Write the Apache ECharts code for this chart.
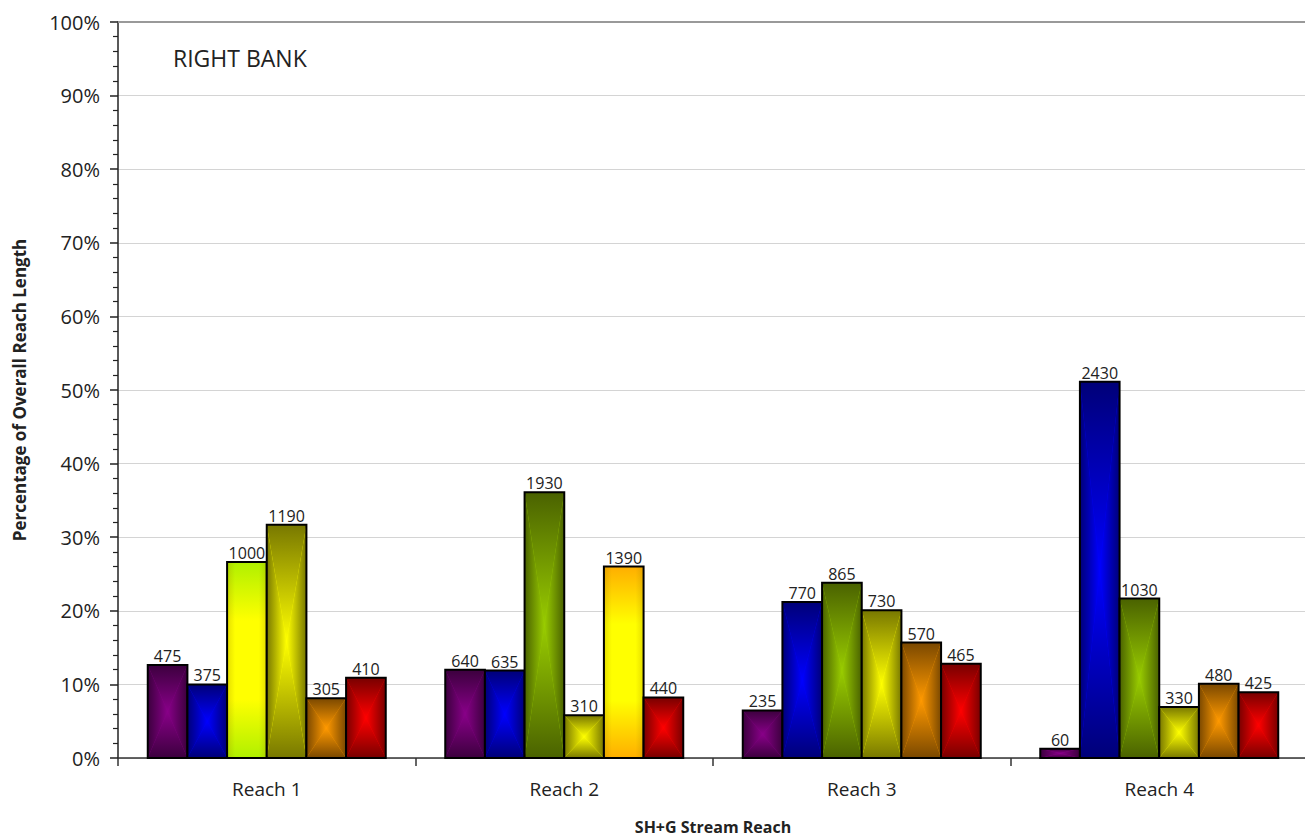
<!DOCTYPE html>
<html>
<head>
<meta charset="utf-8">
<title>Right Bank – SH+G Stream Reach</title>
<script src="https://cdn.jsdelivr.net/npm/echarts@6/dist/echarts.min.js"></script>
<style>
  html, body { margin: 0; padding: 0; background: #fff; overflow: hidden; }
  #chart { width: 1305px; height: 838px; }
</style>
</head>
<body>
<div id="chart"></div>
<script>
// Reaches along the stream (x categories)
const reaches = ['Reach 1', 'Reach 2', 'Reach 3', 'Reach 4'];

// Lengths per class within each reach (labels above bars)
const purpleLen = [475, 640, 235, 60];
const blueLen   = [375, 635, 770, 2430];
const greenLen  = [1000, 1930, 865, 1030];
const yellowLen = [1190, 310, 730, 330];
const orangeLen = [305, 1390, 570, 480];
const redLen    = [410, 440, 465, 425];

// Y-axis range, percent of overall reach length
const yMin = 0, yMax = 100, yStep = 10;

const seriesLengths = [purpleLen, blueLen, greenLen, yellowLen, orangeLen, redLen];

// Fill styles: dark edge fading to a bright centre ("rect" = from-centre box gradient)
const palette = [
  { edge: '#3c003e', center: '#880088', mode: 'rect' },
  { edge: '#000078', center: '#0000ff', mode: 'rect' },
  { edge: '#4a6200', center: '#99cc00', mode: 'rect' },
  { edge: '#787800', center: '#ffff00', mode: 'rect' },
  { edge: '#7a4800', center: '#ff9900', mode: 'rect' },
  { edge: '#780000', center: '#ff0000', mode: 'rect' }
];
// Individual bars with their own fill: key = "series,reach"
const fillOverrides = {
  '2,0': { edge: '#b0f000', center: '#ffff00', mode: 'vertical' },
  '4,1': { edge: '#ffae00', center: '#ffff00', mode: 'vertical' }
};

const totals = reaches.map((_, r) => seriesLengths.reduce((s, arr) => s + arr[r], 0));

const LG = echarts.graphic.LinearGradient;
const FONT = '"Open Sans", "Noto Sans", sans-serif';

function makeRenderItem(sIdx) {
  return function (params, api) {
    const cat = api.value(0);
    const pct = api.value(1);
    const len = api.value(2);
    const band = api.size([1, 0])[0];
    const barW = band * 0.8 / 6;
    const basePt = api.coord([cat, 0]);
    const topPt = api.coord([cat, pct]);
    const x0 = basePt[0] - band * 0.4 + sIdx * barW;
    const x1 = x0 + barW;
    const yT = topPt[1];
    const yB = basePt[1];
    const cx = (x0 + x1) / 2;
    const cy = (yT + yB) / 2;
    const st = fillOverrides[sIdx + ',' + cat] || palette[sIdx];
    const children = [];

    if (st.mode === 'vertical') {
      children.push({
        type: 'rect',
        shape: { x: x0, y: yT, width: barW, height: yB - yT },
        style: {
          fill: new LG(0, 0, 0, 1, [
            { offset: 0, color: st.edge },
            { offset: 0.3, color: st.center },
            { offset: 0.7, color: st.center },
            { offset: 1, color: st.edge }
          ])
        }
      });
      // soft darkening at the side edges
      children.push({
        type: 'rect',
        shape: { x: x0, y: yT, width: barW, height: yB - yT },
        style: {
          fill: new LG(0, 0, 1, 0, [
            { offset: 0, color: 'rgba(150,120,0,0.25)' },
            { offset: 0.2, color: 'rgba(150,120,0,0)' },
            { offset: 0.8, color: 'rgba(150,120,0,0)' },
            { offset: 1, color: 'rgba(150,120,0,0.25)' }
          ])
        }
      });
    } else {
      // base fill to hide seams between the four triangles
      children.push({
        type: 'rect',
        shape: { x: x0, y: yT, width: barW, height: yB - yT },
        style: { fill: st.center }
      });
      const stops = (a, b) => [{ offset: 0, color: a }, { offset: 1, color: b }];
      children.push({
        type: 'polygon',
        shape: { points: [[x0, yT], [x1, yT], [cx, cy]] },
        style: { fill: new LG(0, 0, 0, 1, stops(st.edge, st.center)) }
      });
      children.push({
        type: 'polygon',
        shape: { points: [[x0, yB], [x1, yB], [cx, cy]] },
        style: { fill: new LG(0, 0, 0, 1, stops(st.center, st.edge)) }
      });
      children.push({
        type: 'polygon',
        shape: { points: [[x0, yT], [x0, yB], [cx, cy]] },
        style: { fill: new LG(0, 0, 1, 0, stops(st.edge, st.center)) }
      });
      children.push({
        type: 'polygon',
        shape: { points: [[x1, yT], [x1, yB], [cx, cy]] },
        style: { fill: new LG(0, 0, 1, 0, stops(st.center, st.edge)) }
      });
    }

    // bar outline
    children.push({
      type: 'rect',
      shape: { x: x0, y: yT, width: barW, height: yB - yT },
      style: { fill: 'none', stroke: '#000', lineWidth: 2 }
    });
    // value label
    children.push({
      type: 'text',
      style: {
        text: String(len),
        x: cx,
        y: yT - 1,
        align: 'center',
        verticalAlign: 'bottom',
        fill: '#222',
        font: '16px ' + FONT
      }
    });
    return { type: 'group', children: children };
  };
}

const series = seriesLengths.map((arr, sIdx) => ({
  type: 'custom',
  xAxisIndex: 0,
  yAxisIndex: 0,
  renderItem: makeRenderItem(sIdx),
  encode: { x: 0, y: 1 },
  data: arr.map((v, r) => [r, v / totals[r] * 100, v])
}));

const chart = echarts.init(document.getElementById('chart'), null, { renderer: 'svg' });
chart.setOption({
  animation: false,
  backgroundColor: '#fff',
  textStyle: { fontFamily: FONT },
  grid: { left: 118, width: 1190, top: 22, bottom: 80, containLabel: false, outerBoundsMode: 'none' },
  graphic: [{
    type: 'text',
    left: 173,
    top: 46,
    style: { text: 'RIGHT BANK', fill: '#222', font: '23px ' + FONT }
  }],
  xAxis: [{
    type: 'category',
    data: reaches,
    boundaryGap: true,
    name: 'SH+G Stream Reach',
    nameLocation: 'middle',
    nameGap: 61,
    nameTextStyle: { fontWeight: 'bold', fontSize: 16, color: '#222', fontFamily: FONT },
    axisLine: { show: true, lineStyle: { color: '#333', width: 1.5 } },
    axisTick: { show: true, length: 8, alignWithLabel: false, lineStyle: { color: '#333', width: 1.5 } },
    axisLabel: { margin: 21, fontSize: 19, color: '#222', fontFamily: FONT },
    splitLine: { show: false }
  }, {
    // plot-area top edge at 100%
    type: 'category',
    data: reaches,
    position: 'top',
    axisLine: { show: true, lineStyle: { color: '#999', width: 2 } },
    axisTick: { show: false },
    axisLabel: { show: false },
    splitLine: { show: false }
  }],
  yAxis: {
    type: 'value',
    min: yMin,
    max: yMax,
    interval: yStep,
    name: 'Percentage of Overall Reach Length',
    nameLocation: 'middle',
    nameGap: 90,
    nameTextStyle: { fontWeight: 'bold', fontSize: 17, color: '#222', fontFamily: FONT },
    axisLine: { show: true, lineStyle: { color: '#222', width: 1.5 } },
    axisTick: { show: true, length: 8, lineStyle: { color: '#222', width: 1.5 } },
    minorTick: { show: true, splitNumber: 5, length: 5, lineStyle: { color: '#222', width: 1.2 } },
    axisLabel: { formatter: '{value}%', margin: 18, fontSize: 20, color: '#222', fontFamily: FONT },
    splitLine: { show: true, lineStyle: { color: '#d4d4d4', width: 1 } }
  },
  series: series
});
</script>
</body>
</html>
